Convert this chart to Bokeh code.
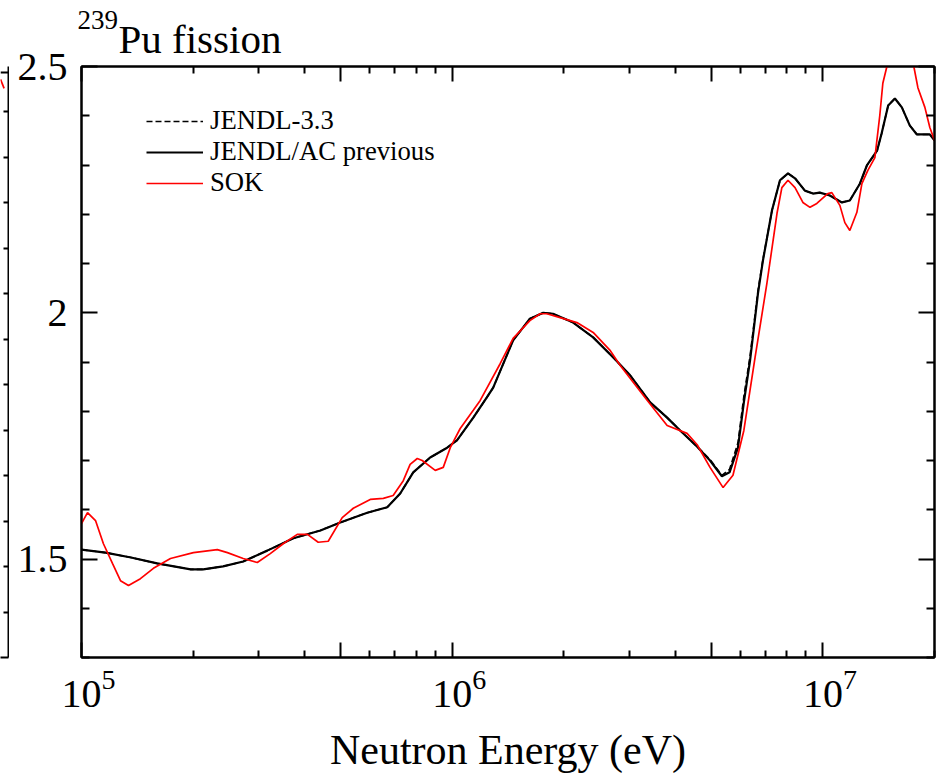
from bokeh.plotting import figure
from bokeh.models import (FixedTicker, LinearAxis, LogAxis, LogTickFormatter, LogScale,
                          Legend, LegendItem, Range1d, Span, CustomLabelingPolicy)
from bokeh.core.properties import value
from bokeh.layouts import row, column
from bokeh.embed import file_html
from bokeh.resources import INLINE

SERIF = "'Liberation Serif'"

# ---- data: 239Pu fission, ratio-type quantity vs neutron energy (eV) ----
energy_ac = [1.00e5, 1.16e5, 1.36e5, 1.60e5, 1.97e5, 2.13e5, 2.41e5, 2.73e5, 3.17e5,
             3.73e5, 4.41e5, 4.99e5, 5.90e5, 6.68e5, 7.24e5, 7.85e5, 8.72e5, 9.69e5,
             1.03e6, 1.14e6, 1.24e6, 1.29e6, 1.46e6, 1.62e6, 1.76e6, 1.87e6, 2.12e6,
             2.40e6, 2.72e6, 3.02e6, 3.42e6, 3.80e6, 4.12e6, 4.58e6, 4.96e6, 5.34e6,
             5.60e6, 5.90e6, 6.12e6, 6.36e6, 6.68e6, 6.89e6, 7.29e6, 7.66e6, 8.05e6,
             8.41e6, 8.94e6, 9.40e6, 9.81e6, 1.044e7, 1.125e7, 1.182e7, 1.258e7,
             1.314e7, 1.40e7, 1.44e7, 1.50e7, 1.564e7, 1.633e7, 1.716e7, 1.793e7,
             1.943e7, 2.0e7]
jendl_ac = [1.519, 1.513, 1.503, 1.491, 1.479, 1.479, 1.485, 1.495, 1.517,
            1.542, 1.558, 1.574, 1.594, 1.605, 1.633, 1.676, 1.706, 1.726,
            1.741, 1.787, 1.828, 1.848, 1.944, 1.988, 2.000, 1.998, 1.980,
            1.950, 1.909, 1.873, 1.818, 1.787, 1.761, 1.728, 1.700, 1.668,
            1.676, 1.726, 1.818, 1.903, 2.039, 2.106, 2.208, 2.269, 2.283,
            2.273, 2.248, 2.242, 2.244, 2.238, 2.224, 2.228, 2.262,
            2.299, 2.329, 2.364, 2.421, 2.435, 2.417, 2.380, 2.362,
            2.362, 2.350]
jendl_33 = [1.519, 1.513, 1.503, 1.491, 1.479, 1.479, 1.485, 1.495, 1.517,
            1.542, 1.558, 1.574, 1.594, 1.605, 1.633, 1.676, 1.706, 1.726,
            1.741, 1.787, 1.828, 1.848, 1.944, 1.988, 2.000, 1.998, 1.980,
            1.950, 1.909, 1.873, 1.818, 1.787, 1.761, 1.728, 1.702, 1.670,
            1.682, 1.736, 1.830, 1.912, 2.045, 2.108, 2.208, 2.269, 2.283,
            2.273, 2.248, 2.242, 2.244, 2.238, 2.224, 2.228, 2.262,
            2.299, 2.329, 2.364, 2.421, 2.435, 2.417, 2.380, 2.362,
            2.362, 2.350]

energy_sok = [1.00e5, 1.038e5, 1.091e5, 1.146e5, 1.212e5, 1.274e5, 1.339e5, 1.442e5,
              1.563e5, 1.738e5, 2.004e5, 2.325e5, 2.475e5, 2.73e5, 2.98e5, 3.23e5,
              3.50e5, 3.82e5, 4.07e5, 4.35e5, 4.63e5, 5.05e5, 5.41e5, 6.01e5, 6.52e5,
              6.93e5, 7.38e5, 7.70e5, 8.05e5, 8.30e5, 9.00e5, 9.46e5, 9.88e5, 1.051e6,
              1.14e6, 1.19e6, 1.348e6, 1.46e6, 1.62e6, 1.727e6, 1.80e6, 1.955e6,
              2.17e6, 2.40e6, 2.67e6, 2.84e6, 3.36e6, 3.80e6, 4.30e6, 4.58e6, 4.96e6,
              5.38e6, 5.72e6, 6.12e6, 6.56e6, 7.06e6, 7.52e6, 7.75e6, 8.05e6, 8.41e6,
              8.83e6, 9.23e6, 9.63e6, 1.031e7, 1.057e7, 1.111e7, 1.146e7, 1.182e7,
              1.235e7, 1.274e7, 1.322e7, 1.381e7, 1.424e7, 1.451e7, 1.488e7, 1.564e7,
              1.663e7, 1.759e7, 1.804e7, 1.884e7, 1.943e7, 2.0e7]
sok = [1.572, 1.594, 1.578, 1.531, 1.491, 1.456, 1.446, 1.460,
       1.481, 1.501, 1.513, 1.519, 1.513, 1.501, 1.493, 1.511,
       1.531, 1.550, 1.550, 1.534, 1.536, 1.584, 1.603, 1.621, 1.623,
       1.629, 1.659, 1.692, 1.704, 1.700, 1.680, 1.686, 1.726, 1.765,
       1.802, 1.822, 1.897, 1.948, 1.984, 1.998, 1.998, 1.990,
       1.980, 1.960, 1.923, 1.893, 1.822, 1.771, 1.755, 1.732, 1.686,
       1.645, 1.670, 1.761, 1.909, 2.059, 2.202, 2.254, 2.269, 2.254,
       2.224, 2.214, 2.222, 2.242, 2.244, 2.218, 2.183, 2.167,
       2.204, 2.262, 2.289, 2.315, 2.401, 2.466, 2.500, 2.573,
       2.583, 2.500, 2.457, 2.417, 2.376, 2.350]

# axis ticks
x_decades = [1e5, 1e6, 1e7]
x_long = [1e5, 5e5, 1e6, 5e6, 1e7]
x_minor = [2e5, 3e5, 4e5, 6e5, 7e5, 8e5, 9e5,
           2e6, 3e6, 4e6, 6e6, 7e6, 8e6, 9e6, 2e7]
y_major = [1.5, 2.0, 2.5]
y_minor = [1.3, 1.4, 1.6, 1.7, 1.8, 1.9, 2.1, 2.2, 2.3, 2.4]
y_labels = {1.5: "1.5", 2.0: "2", 2.5: "2.5"}

# title pieces: nuclide mass number and reaction
title_mass = ["239"]
title_text = ["Pu fission"]

# neighbouring panel's edge (only its right border shows)
edge_ticks = [0.1, 0.2, 0.3, 0.4, 0.5, 0.6, 0.7, 0.8, 0.9, 1.0, 1.1, 1.2]
edge_top = 1.287
edge_x = [0.0, 0.45]
edge_y = [1.272, 1.252]

# tick-only axes draw no labels at all
NO_LABELS = "for (const i of indices) { indices.unset(i) }\nreturn indices"

W, H = 938, 778
TITLE_H = 53          # strip holding the title
TOP_PAD = 13          # room above the frame for the "2.5" label


def style_axis(ax, major=15, minor=7):
    ax.major_tick_in = major
    ax.major_tick_out = 0
    ax.minor_tick_in = minor
    ax.minor_tick_out = 0
    ax.axis_line_width = 2
    ax.axis_line_color = "black"
    ax.major_tick_line_width = 2
    ax.minor_tick_line_width = 2
    ax.major_tick_line_color = "black"
    ax.minor_tick_line_color = "black"
    ax.major_label_text_font_size = "0px"
    ax.major_label_standoff = 0
    ax.major_label_policy = CustomLabelingPolicy(code=NO_LABELS)


# ---- title strip ----
t = figure(width=W, height=TITLE_H, x_range=Range1d(0, W), y_range=Range1d(0, TITLE_H),
           min_border=0, toolbar_location=None, output_backend="svg",
           x_axis_location=None, y_axis_location=None, title=None)
t.grid.visible = False
t.outline_line_color = None
t.text(x=[77], y=[TITLE_H - 19], text=title_mass, text_font=value(SERIF),
       text_font_size="27px", text_color="black", text_baseline="alphabetic",
       text_align="left")
t.text(x=[118], y=[TITLE_H - 38], text=title_text, text_font=value(SERIF),
       text_font_size="41px", text_color="black", text_baseline="alphabetic",
       text_align="left")

# ---- main panel ----
PH = H - TITLE_H
p = figure(width=W - 9, height=PH, x_axis_type="log", title=None,
           x_range=Range1d(1e5, 2e7), y_range=Range1d(1.3, 2.5),
           min_border_left=72, min_border_right=4, min_border_top=TOP_PAD,
           min_border_bottom=121, toolbar_location=None, output_backend="svg")
p.grid.visible = False
p.outline_line_color = "black"
p.outline_line_width = 2
p.background_fill_color = "white"
p.border_fill_color = "white"

# tick-only axes on all four sides
xb = p.xaxis[0]
xb.ticker = FixedTicker(ticks=x_long, minor_ticks=x_minor)
style_axis(xb)
xa = LogAxis(ticker=FixedTicker(ticks=x_long, minor_ticks=x_minor))
style_axis(xa)
p.add_layout(xa, "above")

yt = FixedTicker(ticks=y_major, minor_ticks=y_minor)
yl = p.yaxis[0]
yl.ticker = yt
style_axis(yl, major=16, minor=8)
yl.major_label_policy = CustomLabelingPolicy(code="return indices")
yl.major_label_text_font_size = "40px"
yl.major_label_text_font = SERIF
yl.major_label_text_color = "black"
yl.major_label_standoff = 14
yl.major_label_overrides = y_labels
yr = LinearAxis(ticker=yt)
style_axis(yr, major=16, minor=8)
p.add_layout(yr, "right")

# decade labels: the mantissa "10" sits centred on its tick, so the label
# axis uses a log range nudged left by half the exponent's width
p.extra_x_ranges = {"decade_labels": Range1d(0.9575e5, 1.915e7)}
p.extra_x_scales = {"decade_labels": LogScale()}
xl = LogAxis(ticker=FixedTicker(ticks=x_decades, minor_ticks=[]),
             formatter=LogTickFormatter(), x_range_name="decade_labels")
xl.axis_line_color = None
xl.major_tick_in = 0
xl.major_tick_out = 0
xl.minor_tick_in = 0
xl.minor_tick_out = 0
xl.major_label_text_font_size = "40px"
xl.major_label_text_font = SERIF
xl.major_label_text_color = "black"
xl.major_label_standoff = 12
xl.axis_label = "Neutron Energy (eV)"
xl.axis_label_text_font = SERIF
xl.axis_label_text_font_size = "42px"
xl.axis_label_text_font_style = "normal"
xl.axis_label_text_color = "black"
xl.axis_label_standoff = 17
p.add_layout(xl, "below")

r33 = p.line(energy_ac, jendl_33, line_color="black", line_width=1.6,
             line_dash="6 3")
rac = p.line(energy_ac, jendl_ac, line_color="black", line_width=2.2)
rsok = p.line(energy_sok, sok, line_color="#ff0000", line_width=1.7)

legend = Legend(items=[LegendItem(label="JENDL-3.3", renderers=[r33]),
                       LegendItem(label="JENDL/AC previous", renderers=[rac]),
                       LegendItem(label="SOK", renderers=[rsok])],
                location=(65, 459), orientation="vertical",
                label_text_font=SERIF, label_text_font_size="26.7px",
                label_text_color="black",
                glyph_width=57, glyph_height=28, label_height=28,
                label_standoff=7, spacing=0, padding=0, margin=0,
                border_line_alpha=0, background_fill_alpha=0)
p.add_layout(legend)

# ---- sliver of the neighbouring panel on the left ----
s = figure(width=9, height=PH, x_range=Range1d(0, 1), y_range=Range1d(0, 1.3),
           min_border_left=0, min_border_right=1, min_border_top=TOP_PAD,
           min_border_bottom=121, toolbar_location=None, output_backend="svg",
           x_axis_location=None, y_axis_location="right", title=None)
s.grid.visible = False
s.outline_line_color = None
sr = s.yaxis[0]
sr.ticker = FixedTicker(ticks=edge_ticks)
style_axis(sr, major=5, minor=0)
bx = LinearAxis(ticker=FixedTicker(ticks=[]))
style_axis(bx, major=0, minor=0)
s.add_layout(bx, "below")
s.add_layout(Span(location=edge_top, dimension="width", line_color="black",
                  line_width=2))
s.line(edge_x, edge_y, line_color="#ff0000", line_width=1.7)

layout = column(t, row(s, p, spacing=0), spacing=0)
open("out.html", "w").write(file_html(layout, INLINE, title="239Pu fission"))
